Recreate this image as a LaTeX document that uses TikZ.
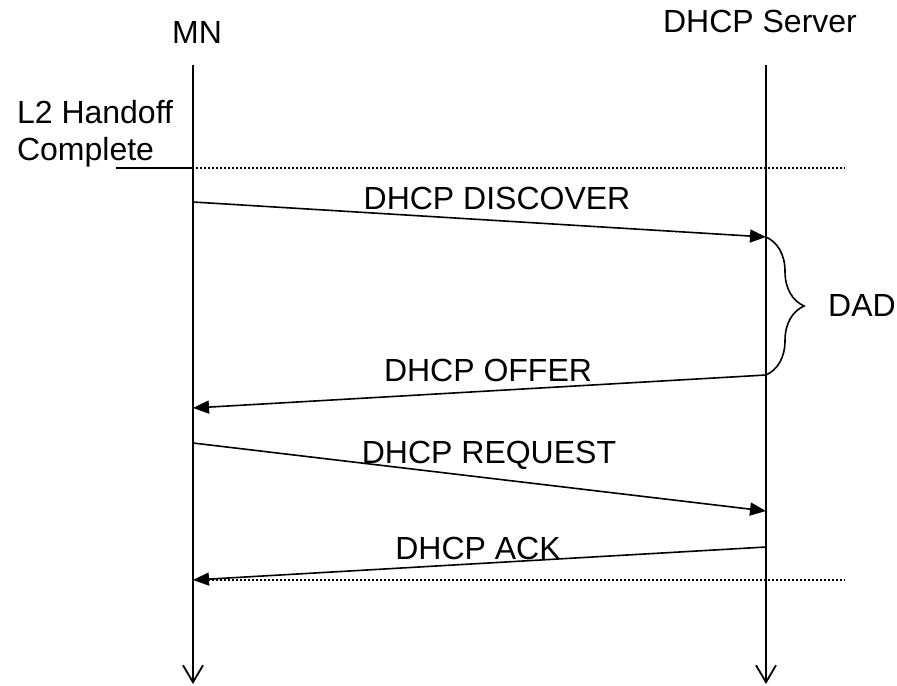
\documentclass[tikz,border=0pt]{standalone}
\usepackage{fontspec}
\setmainfont{Liberation Sans}
\usetikzlibrary{arrows.meta,decorations.pathreplacing}
\begin{document}
\begin{tikzpicture}[x=0.5pt,y=-0.5pt,font=\fontsize{16}{18.5}\selectfont,
    msg/.style={line width=0.8pt,-{Triangle[length=8pt,width=6.5pt]}},
    life/.style={line width=0.9pt,-{Straight Barb[length=8.5pt,width=10pt]}},
    guide/.style={line width=0.8pt,dash pattern=on 0.8pt off 1.2pt}]
    \useasboundingbox (0,0) rectangle (897,685);

    % Teilnehmer
    \node (mn) at (197,32) {MN};
    \node (srv) at (760,21) {DHCP Server};
    \coordinate (mnT) at (193,65);
    \coordinate (mnB) at (193,684);
    \coordinate (srvT) at (766,65);
    \coordinate (srvB) at (766,684);
    \draw[life] (mnT) -- (mnB);
    \draw[life] (srvT) -- (srvB);

    % L2 Handoff
    \node[align=left,anchor=west] (l2) at (10,134) {L2 Handoff\\Complete};
    \coordinate (l2a) at (116,168);
    \coordinate (l2b) at (193,168);
    \coordinate (l2c) at (845,168);
    \draw[line width=0.8pt] (l2a) -- (l2b);
    \draw[guide] (l2b) ++(3,0) -- (l2c);

    % Nachrichten
    \coordinate (disA) at (193,202);
    \coordinate (disB) at (766,237);
    \draw[msg] (disA) -- (disB);
    \node (dis) at (497,198) {DHCP DISCOVER};

    \coordinate (offA) at (766,375);
    \coordinate (offB) at (193,408);
    \draw[msg] (offA) -- (offB);
    \node (off) at (488,370) {DHCP OFFER};

    \coordinate (reqA) at (193,443);
    \coordinate (reqB) at (766,511);
    \draw[msg] (reqA) -- (reqB);
    \node (req) at (489,455) {DHCP REQUEST};

    \coordinate (ackA) at (766,547);
    \coordinate (ackB) at (193,580);
    \draw[msg] (ackA) -- (ackB);
    \node (ack) at (478,548) {DHCP ACK};

    \coordinate (endL) at (845,580);
    \draw[guide] (ackB) ++(3,0) -- (endL);

    % DAD
    \draw[line width=0.8pt,decorate,decoration={brace,amplitude=19pt}] (disB) -- (offA);
    \node (dad) at (862,305) {DAD};
\end{tikzpicture}
\end{document}
